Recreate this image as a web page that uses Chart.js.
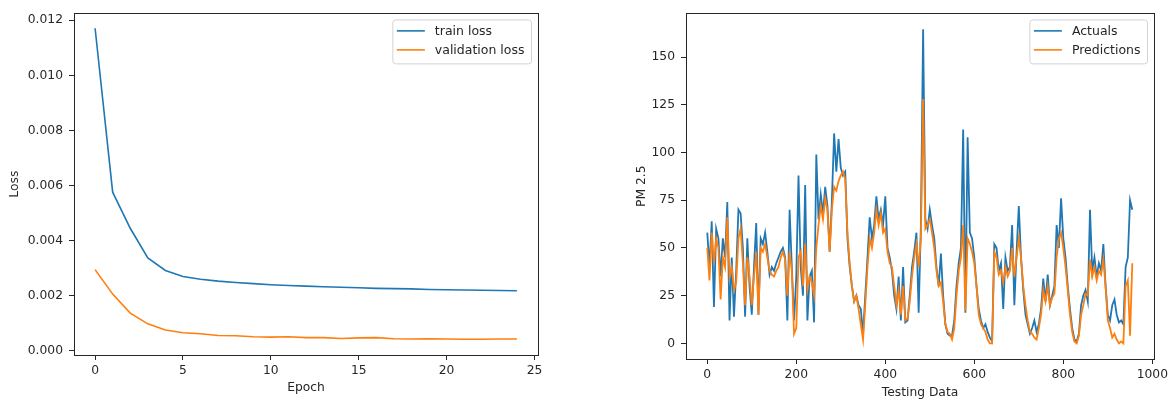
<!DOCTYPE html>
<html>
<head>
<meta charset="utf-8">
<script src="https://cdn.jsdelivr.net/npm/chart.js@4.4.1/dist/chart.umd.min.js"></script>
<style>
body { margin: 0; background: #fff; }
#wrap { position: relative; width: 1175px; height: 405px; }
canvas { position: absolute; top: 0; }
</style>
</head>
<body>
<div id="wrap">
  <canvas id="lossChart" width="560" height="405" style="left:0"></canvas>
  <canvas id="pmChart" width="575" height="405" style="left:600px"></canvas>
</div>
<script>
// left panel: loss per epoch
const epochs = [0, 1, 2, 3, 4, 5, 6, 7, 8, 9, 10, 11, 12, 13, 14, 15, 16, 17, 18, 19, 20, 21, 22, 23, 24];
const trainLoss = [0.01171, 0.00576, 0.00445, 0.00337, 0.00292, 0.00270, 0.00260, 0.00253, 0.00248, 0.00244,
    0.00240, 0.00237, 0.00235, 0.00233, 0.00231, 0.00229, 0.00227, 0.00226, 0.00225, 0.00223,
    0.00222, 0.00221, 0.00220, 0.00219, 0.00218];
const valLoss = [0.00295, 0.00206, 0.00137, 0.00098, 0.00076, 0.00066, 0.00062, 0.00056, 0.00055, 0.00051,
    0.00050, 0.00051, 0.00048, 0.00048, 0.00045, 0.00047, 0.00048, 0.00044, 0.00043, 0.00044,
    0.00043, 0.00042, 0.00042, 0.00043, 0.00043];

// right panel: PM 2.5, one reading every 5 test samples
const sampleStep = 5;
const actuals = [
    58, 40, 64, 19, 60, 55, 35, 55, 45, 74,
    12, 45, 14, 38, 70, 68, 50, 14, 55, 30,
    15, 40, 63, 15, 55, 52, 58, 48, 36, 40,
    38, 42, 45, 48, 50, 45, 12, 70, 40, 12,
    35, 88, 40, 25, 83, 12, 35, 38, 11, 99,
    65, 78, 68, 82, 72, 48, 75, 110, 90, 107,
    92, 88, 90, 55, 40, 30, 22, 25, 20, 18,
    5, 25, 45, 66, 55, 62, 77, 65, 70, 62,
    77, 50, 45, 38, 25, 18, 35, 12, 40, 11,
    12, 25, 40, 48, 58, 16, 62, 164.6, 65, 60,
    70, 62, 55, 40, 30, 47, 25, 10, 5, 4,
    4, 12, 30, 42, 50, 112, 16, 108, 58, 55,
    45, 30, 18, 12, 8, 10, 6, 3, 1, 52,
    50, 38, 42, 18, 45, 38, 40, 62, 20, 48,
    72, 45, 28, 15, 10, 5, 8, 12, 6, 10,
    18, 34, 22, 36, 20, 25, 30, 62, 50, 76,
    55, 45, 30, 18, 8, 2, 1, 5, 20, 25,
    28, 22, 70, 38, 45, 35, 42, 38, 52, 30,
    15, 12, 20, 23, 15, 11, 12, 10, 40, 45, 75, 70
];
const predictions = [
    50, 33, 58, 42, 55, 50, 23, 45, 40, 66,
    35, 40, 28, 32, 55, 60, 42, 20, 45, 35,
    20, 35, 48, 15, 50, 48, 52, 45, 38, 36,
    35, 38, 40, 45, 48, 44, 25, 48, 38, 5,
    8, 45, 48, 30, 52, 28, 35, 32, 25, 50,
    62, 72, 65, 76, 70, 48, 70, 82, 80, 85,
    88, 90, 86, 58, 42, 30, 22, 25, 18, 10,
    2, 20, 40, 55, 50, 58, 70, 62, 68, 58,
    60, 48, 42, 40, 30, 20, 28, 15, 30, 12,
    13, 22, 35, 45, 52, 40, 55, 128, 60, 62,
    65, 58, 50, 38, 30, 32, 22, 10, 6, 5,
    2, 8, 25, 38, 45, 62, 17, 55, 52, 48,
    42, 30, 15, 10, 8, 6, 2, 0, 0, 48,
    45, 36, 38, 32, 40, 35, 38, 50, 35, 45,
    55, 45, 30, 20, 12, 6, 5, 3, 2, 8,
    15, 28, 22, 30, 20, 24, 26, 45, 55, 58,
    50, 40, 28, 15, 6, 1, 0, 4, 15, 20,
    26, 25, 44, 35, 40, 33, 38, 36, 44, 30,
    12, 8, 3, 5, 2, 0, 1, 0, 30, 33, 4, 42
];

const BLUE = "#1f77b4";
const ORANGE = "#ff7f0e";
const INK = "#262626";

Chart.defaults.font.family = "'DejaVu Sans', sans-serif";
Chart.defaults.font.size = 12.3;
Chart.defaults.color = INK;

// black box around the plot area, like matplotlib spines
const frame = {
    id: "frame",
    afterDraw(chart) {
        const { ctx, chartArea: a } = chart;
        ctx.save();
        ctx.strokeStyle = INK;
        ctx.lineWidth = 1;
        ctx.strokeRect(Math.round(a.left) + 0.5, Math.round(a.top) + 0.5,
            Math.round(a.right - a.left), Math.round(a.bottom - a.top));
        ctx.restore();
    },
};

// legend box in the upper right corner
const boxLegend = {
    id: "boxLegend",
    afterDraw(chart) {
        const { ctx, chartArea: a } = chart;
        const sets = chart.data.datasets;
        ctx.save();
        ctx.font = "12.5px 'DejaVu Sans'";
        let textW = 0;
        sets.forEach((d) => { textW = Math.max(textW, ctx.measureText(d.label).width); });
        const w = 4 + 28 + 10 + textW + 7;
        const h = 44;
        const x = a.right - 6.5 - w;
        const y = a.top + 6.5;
        ctx.beginPath();
        ctx.roundRect(x, y, w, h, 3);
        ctx.fillStyle = "rgba(255,255,255,0.85)";
        ctx.fill();
        ctx.strokeStyle = "#d3d3d3";
        ctx.lineWidth = 1;
        ctx.stroke();
        sets.forEach((d, i) => {
            const ly = y + 11 + i * 19;
            ctx.beginPath();
            ctx.moveTo(x + 4, ly);
            ctx.lineTo(x + 32, ly);
            ctx.strokeStyle = d.borderColor;
            ctx.lineWidth = 1.6;
            ctx.stroke();
            ctx.fillStyle = INK;
            ctx.textBaseline = "middle";
            ctx.fillText(d.label, x + 42, ly + 1);
        });
        ctx.restore();
    },
};

function axisOpts(min, max, step, fmt, fixSize, isX, title, titlePad) {
    return {
        type: "linear",
        min: min,
        max: max,
        grid: { drawOnChartArea: false, drawTicks: true, tickLength: 5, color: INK },
        border: { display: false },
        ticks: { stepSize: step, includeBounds: false, padding: isX ? 3 : 6, callback: fmt, maxRotation: 0 },
        title: { display: true, text: title, padding: titlePad },
        afterFit(s) { if (isX) s.height = fixSize; else s.width = fixSize; },
    };
}

new Chart(document.getElementById("lossChart"), {
    type: "line",
    data: {
        datasets: [{
            label: "train loss",
            data: trainLoss.map((v, i) => ({ x: epochs[i], y: v })),
            borderColor: BLUE,
            borderWidth: 1.6,
            pointRadius: 0,
            tension: 0,
        }, {
            label: "validation loss",
            data: valLoss.map((v, i) => ({ x: epochs[i], y: v })),
            borderColor: ORANGE,
            borderWidth: 1.6,
            pointRadius: 0,
            tension: 0,
        }],
    },
    options: {
        responsive: false,
        animation: false,
        layout: { padding: { top: 9, right: 22, left: 0, bottom: 0 } },
        plugins: { legend: { display: false }, tooltip: { enabled: false } },
        scales: {
            x: axisOpts(-1.2, 25.2, 5, (v) => String(v), 50, true, "Epoch", { top: 0, bottom: 10 }),
            y: axisOpts(-0.00015, 0.01225, 0.002, (v) => v.toFixed(3), 74, false, "Loss", { top: 7, bottom: 0 }),
        },
    },
    plugins: [frame, boxLegend],
});

new Chart(document.getElementById("pmChart"), {
    type: "line",
    data: {
        datasets: [{
            label: "Actuals",
            data: actuals.map((v, i) => ({ x: i * sampleStep, y: v })),
            borderColor: BLUE,
            borderWidth: 1.8,
            pointRadius: 0,
            tension: 0,
            order: 1,
        }, {
            label: "Predictions",
            data: predictions.map((v, i) => ({ x: i * sampleStep, y: v })),
            borderColor: ORANGE,
            borderWidth: 1.8,
            pointRadius: 0,
            tension: 0,
            order: 0,
        }],
    },
    options: {
        responsive: false,
        animation: false,
        layout: { padding: { top: 9, right: 21, left: 0, bottom: 0 } },
        plugins: { legend: { display: false }, tooltip: { enabled: false } },
        scales: {
            x: axisOpts(-47.8, 1003.8, 200, (v) => String(v), 46, true, "Testing Data", { top: 0, bottom: 5 }),
            y: axisOpts(-8.2, 172.9, 25, (v) => String(v), 86, false, "PM 2.5", { top: 34, bottom: 0 }),
        },
    },
    plugins: [frame, boxLegend],
});
</script>
</body>
</html>
